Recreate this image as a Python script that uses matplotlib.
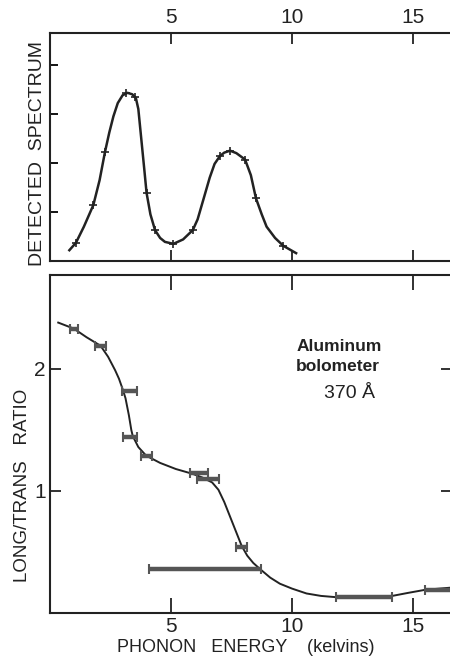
import numpy as np
import matplotlib
matplotlib.use('Agg')
import matplotlib.pyplot as plt

plt.rcParams['font.family'] = ['Liberation Sans', 'DejaVu Sans']

# Top panel: detected spectrum (arbitrary units)
spec_curve_x = [0.8, 1.07, 1.4, 1.79, 2.05, 2.27, 2.45, 2.62, 2.8, 3.0, 3.2, 3.4, 3.55, 3.65,
                3.79, 3.9, 3.99, 4.15, 4.34, 4.55, 4.75, 5.1, 5.5, 5.9, 6.1, 6.33, 6.6, 6.8,
                7.02, 7.2, 7.44, 7.7, 8.06, 8.3, 8.51, 8.75, 8.95, 9.3, 9.64, 10.17]
spec_curve_y = [0.22, 0.37, 0.7, 1.14, 1.65, 2.22, 2.62, 2.95, 3.22, 3.38, 3.43, 3.4, 3.32, 3.1,
                2.40, 1.85, 1.39, 0.95, 0.63, 0.47, 0.39, 0.35, 0.44, 0.63, 0.85, 1.24, 1.7, 1.98,
                2.14, 2.21, 2.25, 2.2, 2.07, 1.75, 1.28, 0.95, 0.70, 0.47, 0.31, 0.16]
spec_pts_x = [1.07, 1.79, 2.27, 3.12, 3.5, 3.99, 4.34, 5.1, 5.9, 7.02, 7.44, 8.06, 8.51, 9.64]
spec_pts_y = [0.37, 1.14, 2.22, 3.42, 3.35, 1.39, 0.63, 0.35, 0.63, 2.14, 2.24, 2.07, 1.28, 0.31]

# Bottom panel: long/trans ratio
ratio_curve_x = [0.34, 0.99, 1.51, 2.09, 2.4, 2.69, 2.85, 3.01, 3.12, 3.19, 3.26, 3.31, 3.36,
                 3.42, 3.65, 3.97, 4.55, 5.2, 5.9, 6.3, 6.7, 6.96, 7.2, 7.44, 7.7, 7.92, 8.15,
                 8.4, 8.68, 9.1, 9.5, 10.0, 10.6, 11.2, 11.8, 12.5, 13.3, 14.14, 14.8, 15.5,
                 16.1, 16.7]
ratio_curve_y = [2.38, 2.33, 2.26, 2.19, 2.1, 1.99, 1.92, 1.83, 1.76, 1.69, 1.62, 1.56, 1.50,
                 1.45, 1.36, 1.29, 1.23, 1.18, 1.14, 1.11, 1.07, 1.01, 0.91, 0.79, 0.66, 0.55,
                 0.47, 0.41, 0.36, 0.29, 0.24, 0.20, 0.16, 0.14, 0.13, 0.13, 0.135, 0.14, 0.165,
                 0.19, 0.20, 0.21]
ratio_x = [0.99, 2.09, 3.28, 3.31, 3.97, 6.16, 6.52, 7.92, 6.41, 12.97, 16.4]
ratio_y = [2.33, 2.19, 1.82, 1.44, 1.29, 1.145, 1.10, 0.54, 0.36, 0.134, 0.19]
ratio_xerr = [0.17, 0.22, 0.31, 0.29, 0.23, 0.38, 0.45, 0.22, 2.31, 1.17, 0.9]

ink = '#222222'

fig = plt.figure(figsize=(4.5, 6.62), dpi=100)
ax1 = fig.add_axes([50 / 450, 1 - 261 / 662, 402 / 450, 228 / 662])
ax2 = fig.add_axes([50 / 450, 1 - 613 / 662, 402 / 450, 338 / 662])

xmax = 402 / 24.2

# top panel
ax1.plot(spec_curve_x, spec_curve_y, color=ink, lw=1.8)
ax1.plot(spec_pts_x, spec_pts_y, '+', color=ink, ms=6, mew=1.2)
ax1.set_xlim(0, xmax)
ax1.set_ylim(0, 4.65)
ax1.set_xticks([5, 10, 15])
ax1.set_yticks([1, 2, 3, 4])
ax1.tick_params(axis='x', direction='in', length=8, width=1.3, top=True, bottom=True,
                labeltop=True, labelbottom=False, labelsize=15, colors=ink, pad=4)
ax1.tick_params(axis='y', direction='in', length=6, width=1.3, left=True, right=False,
                labelleft=False)

# bottom panel
ax2.plot(ratio_curve_x, ratio_curve_y, color=ink, lw=1.4)
ax2.errorbar(ratio_x, ratio_y, xerr=ratio_xerr, fmt='none', ecolor='#555555',
             elinewidth=3.2, capsize=3.5, capthick=1.5)
ax2.set_xlim(0, xmax)
ax2.set_ylim(0, 2.77)
ax2.set_xticks([5, 10, 15])
ax2.set_yticks([1, 2])
ax2.tick_params(axis='x', direction='in', length=11, width=1.3, top=True, bottom=True,
                labeltop=False, labelbottom=True, labelsize=15, colors=ink, pad=3)
ax2.tick_params(axis='y', direction='in', length=8, width=1.3, left=True, right=True,
                labelleft=True, labelsize=15, colors=ink, pad=3)

for ax in (ax1, ax2):
    for sp in ax.spines.values():
        sp.set_linewidth(1.5)
        sp.set_color(ink)

ax2.text(10.2, 2.18, 'Aluminum', fontsize=12.5, fontweight='bold', color=ink,
         ha='left', va='center')
ax2.text(10.15, 2.02, 'bolometer', fontsize=12.5, fontweight='bold', color=ink,
         ha='left', va='center')
ax2.text(13.45, 1.80, '370 Å', fontsize=14, color=ink, ha='right', va='center')

fig.text(38 / 450, 1 - 154 / 662, 'DETECTED  SPECTRUM', rotation=90, fontsize=14,
         color=ink, ha='center', va='center')
fig.text(23 / 450, 1 - 485 / 662, 'LONG/TRANS   RATIO', rotation=90, fontsize=13.5,
         color=ink, ha='center', va='center')
fig.text(246 / 450, 1 - 648 / 662, 'PHONON   ENERGY    (kelvins)', fontsize=13,
         color=ink, ha='center', va='center')

fig.savefig('out.png', dpi=100)
